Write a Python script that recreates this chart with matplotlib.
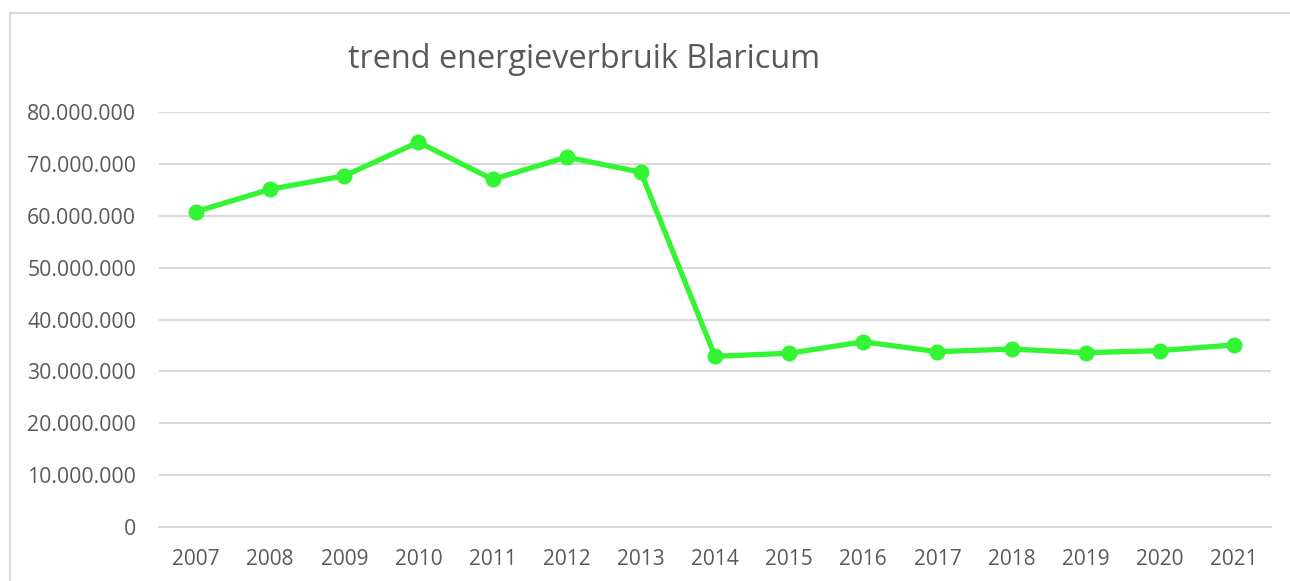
import matplotlib.pyplot as plt
from matplotlib.patches import Rectangle
from matplotlib.ticker import FuncFormatter, MultipleLocator

# jaartallen en verbruik (kWh)
JAREN = ['2007', '2008', '2009', '2010', '2011', '2012', '2013',
         '2014', '2015', '2016', '2017', '2018', '2019', '2020', '2021']
VERBRUIK = [60.8e6, 65.1e6, 67.7e6, 74.2e6, 67.0e6, 71.3e6, 68.4e6,
            32.9e6, 33.5e6, 35.7e6, 33.8e6, 34.3e6, 33.6e6, 34.0e6, 35.1e6]
TITEL = 'trend energieverbruik Blaricum'

LIJN_KLEUR = '#33f533'
GRID_KLEUR = '#d9d9d9'
TEKST_KLEUR = '#595959'

plt.rcParams['font.family'] = ['Open Sans', 'DejaVu Sans']

fig = plt.figure(figsize=(12.9, 5.81), dpi=100)
ax = fig.add_axes([159 / 1290, 1 - 527 / 581, (1271 - 159) / 1290, (527 - 112) / 581])

x = range(len(JAREN))
ax.plot(x, VERBRUIK, color=LIJN_KLEUR, linewidth=3.8, marker='o',
        markersize=10.5, solid_joinstyle='round', zorder=3)

ax.set_xlim(-0.5, len(JAREN) - 0.5)
ax.set_ylim(0, 80e6)
ax.yaxis.set_major_locator(MultipleLocator(10e6))
ax.yaxis.set_major_formatter(FuncFormatter(lambda v, p: f'{v:,.0f}'.replace(',', '.')))
ax.set_xticks(list(x))
ax.set_xticklabels(JAREN)

ax.grid(axis='y', color=GRID_KLEUR, linewidth=1.5)
ax.set_axisbelow(True)
for s in ['top', 'right', 'left']:
    ax.spines[s].set_visible(False)
ax.spines['bottom'].set_color(GRID_KLEUR)
ax.spines['bottom'].set_linewidth(1.5)
ax.tick_params(axis='y', length=0, labelsize=15.3, colors=TEKST_KLEUR, pad=16.5)
ax.tick_params(axis='x', length=0, labelsize=15, colors=TEKST_KLEUR, pad=16)

fig.text(584 / 1290, 1 - 59 / 581, TITEL, ha='center', va='center',
         fontsize=23.4, color=TEKST_KLEUR)

# kader rond de grafiek (loopt door buiten beeld)
fig.patches.append(Rectangle((10 / 1290, -0.1), 1.2, 1.1 - 13 / 581,
                             transform=fig.transFigure, fill=False,
                             edgecolor=GRID_KLEUR, linewidth=1.5))

fig.savefig('out.png', dpi=100)
